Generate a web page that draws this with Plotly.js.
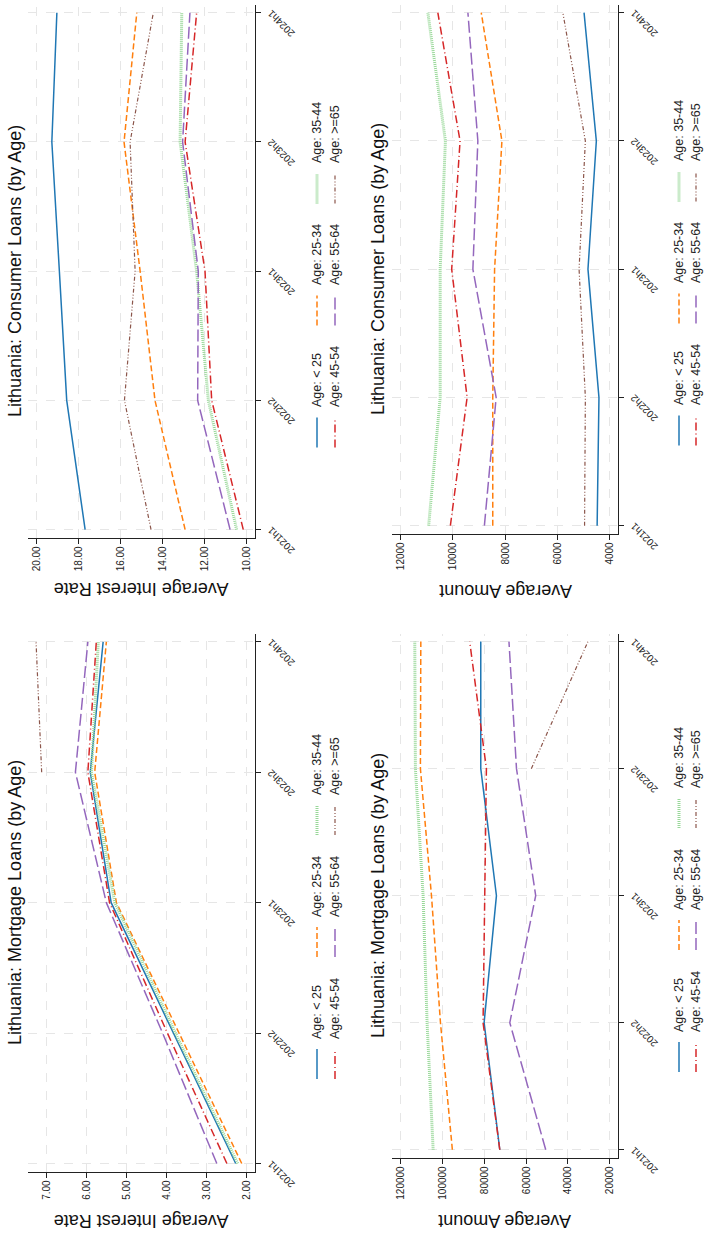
<!DOCTYPE html>
<html>
<head>
<meta charset="utf-8">
<script src="https://cdn.plot.ly/plotly-3.0.1.min.js"></script>
<style>
html,body{margin:0;padding:0;background:#fff;width:706px;height:1235px;overflow:hidden;}
#wrap{position:absolute;left:0;top:0;width:1235px;height:706px;transform-origin:0 0;transform:translate(0px,1235px) rotate(-90deg);}
</style>
</head>
<body>
<div id="wrap"></div>
<script>
// ---------------- DATA ----------------
const periods = ["2021h1", "2022h2", "2023h1", "2023h2", "2024h1"];
const ageGroups = ["Age: < 25", "Age: 25-34", "Age: 35-44", "Age: 45-54", "Age: 55-64", "Age: >=65"];

// Mortgage loans: average interest rate
const mortRateLt25  = [2.28, 3.83, 5.38, 5.90, 5.58];
const mortRate25_34 = [2.13, 3.70, 5.25, 5.79, 5.50];
const mortRate35_44 = [2.23, 3.78, 5.29, 5.87, 5.70];
const mortRate45_54 = [2.50, 3.98, 5.42, 5.96, 5.75];
const mortRate55_64 = [2.75, 4.10, 5.50, 6.27, 5.96];
const mortRate65p   = [null, null, null, 7.11, 7.25];

// Mortgage loans: average amount
const mortAmtLt25  = [72600, 80100, 74200, 81700, 81700];
const mortAmt25_34 = [95300, 101000, 105300, 110600, 110400];
const mortAmt35_44 = [104500, 107400, 109300, 113000, 113300];
const mortAmt45_54 = [72600, 80600, 79800, 79000, 87000];
const mortAmt55_64 = [50600, 67800, 55400, 64600, 68200];
const mortAmt65p   = [null, null, null, 57500, 30400];

// Consumer loans: average interest rate
const consRateLt25  = [17.69, 18.57, 18.92, 19.28, 19.04];
const consRate25_34 = [12.91, 14.35, 15.06, 15.83, 15.22];
const consRate35_44 = [10.45, 11.80, 12.36, 13.15, 13.07];
const consRate45_54 = [10.13, 11.64, 11.96, 12.91, 12.36];
const consRate55_64 = [10.76, 12.31, 12.28, 13.03, 12.68];
const consRate65p   = [14.54, 15.81, 15.30, 15.54, 14.43];

// Consumer loans: average amount
const consAmtLt25  = [4480, 4410, 4830, 4510, 4980];
const consAmt25_34 = [8470, 8470, 8400, 8120, 8910];
const consAmt35_44 = [10920, 10480, 10480, 10280, 10950];
const consAmt45_54 = [10090, 9450, 10040, 9720, 10570];
const consAmt55_64 = [8790, 8340, 9230, 9040, 9420];
const consAmt65p   = [4960, 4930, 5170, 4930, 5790];

const rateTicksMort = [2, 3, 4, 5, 6, 7];
const amtTicksMort  = [20000, 40000, 60000, 80000, 100000, 120000];
const rateTicksCons = [10, 12, 14, 16, 18, 20];
const amtTicksCons  = [4000, 6000, 8000, 10000, 12000];

// ---------------- STYLE ----------------
const W = 1235, H = 706;
const FONT = "Liberation Sans, Arial, Helvetica, sans-serif";
const lineStyles = [
  {color: "#1f77b4", width: 1.5, dash: "solid"},
  {color: "#ff7f0e", width: 1.5, dash: "6px,3px"},
  {color: "#98d898", width: 3, dash: "1px,1px"},
  {color: "#d62728", width: 1.5, dash: "8px,3px,1px,3px"},
  {color: "#9467bd", width: 1.5, dash: "12px,4px"},
  {color: "#8c564b", width: 1.2, dash: "4px,2px,1px,2px,1px,2px"}
];

const panels = [
  {series: [mortRateLt25, mortRate25_34, mortRate35_44, mortRate45_54, mortRate55_64, mortRate65p],
   title: "Lithuania: Mortgage Loans (by Age)", ytitle: "Average Interest Rate",
   ticks: rateTicksMort, fmt: ".2f", range: [1.8, 7.45],
   px: [63, 601], py: [28, 255], titleY: 15, ytitleX: 14, legY: [317, 335]},
  {series: [mortAmtLt25, mortAmt25_34, mortAmt35_44, mortAmt45_54, mortAmt55_64, mortAmt65p],
   title: "Lithuania: Mortgage Loans (by Age)", ytitle: "Average Amount",
   ticks: amtTicksMort, fmt: "d", range: [16000, 124200],
   px: [77, 601], py: [392, 618], titleY: 378, ytitleX: 14, legY: [679, 696]},
  {series: [consRateLt25, consRate25_34, consRate35_44, consRate45_54, consRate55_64, consRate65p],
   title: "Lithuania: Consumer Loans (by Age)", ytitle: "Average Interest Rate",
   ticks: rateTicksCons, fmt: ".2f", range: [9.57, 20.42],
   px: [697, 1230], py: [28, 255], titleY: 15, ytitleX: 646, legY: [317, 335]},
  {series: [consAmtLt25, consAmt25_34, consAmt35_44, consAmt45_54, consAmt55_64, consAmt65p],
   title: "Lithuania: Consumer Loans (by Age)", ytitle: "Average Amount",
   ticks: amtTicksCons, fmt: "d", range: [3682, 12322],
   px: [701, 1230], py: [392, 618], titleY: 378, ytitleX: 644, legY: [679, 696]}
];

const traces = [];
const layout = {
  width: W, height: H,
  margin: {l: 0, r: 0, t: 0, b: 0},
  paper_bgcolor: "#fff", plot_bgcolor: "#fff",
  font: {family: FONT, color: "#222"},
  showlegend: false,
  annotations: [], shapes: []
};

const px2x = X => X / W;
const px2y = Y => 1 - Y / H;

panels.forEach((p, i) => {
  const n = i === 0 ? "" : String(i + 1);
  const xa = "x" + n, ya = "y" + n;
  p.series.forEach((vals, k) => {
    traces.push({
      type: "scatter", mode: "lines", x: periods, y: vals, name: ageGroups[k],
      xaxis: xa, yaxis: ya, connectgaps: false,
      line: lineStyles[k], hoverinfo: "skip"
    });
  });
  layout["xaxis" + n] = {
    domain: [px2x(p.px[0]), px2x(p.px[1])], anchor: ya,
    type: "category", range: [-0.065, 4.06],
    tickangle: -45, tickfont: {size: 10, family: FONT, color: "#222"},
    ticks: "outside", ticklen: 5, tickwidth: 1, tickcolor: "#222",
    showline: true, linecolor: "#222", linewidth: 1.3,
    showgrid: true, gridcolor: "#e6e6e6", griddash: "dash", gridwidth: 1,
    zeroline: false, fixedrange: true
  };
  layout["yaxis" + n] = {
    domain: [px2y(p.py[1]), px2y(p.py[0])], anchor: xa,
    range: p.range, tickmode: "array", tickvals: p.ticks, tickformat: p.fmt,
    tickfont: {size: 10, family: FONT, color: "#222"},
    ticks: "outside", ticklen: 5, tickwidth: 1, tickcolor: "#222",
    showline: true, linecolor: "#222", linewidth: 1.3,
    showgrid: true, gridcolor: "#e6e6e6", griddash: "dash", gridwidth: 1,
    zeroline: false, fixedrange: true
  };
  const cx = (p.px[0] + p.px[1]) / 2;
  layout.annotations.push({
    text: p.title, xref: "paper", yref: "paper", x: px2x(cx), y: px2y(p.titleY),
    xanchor: "center", yanchor: "middle", showarrow: false,
    font: {size: 18, family: FONT, color: "#111"}
  });
  layout.annotations.push({
    text: p.ytitle, xref: "paper", yref: "paper",
    x: px2x(p.ytitleX), y: px2y((p.py[0] + p.py[1]) / 2),
    xanchor: "center", yanchor: "middle", textangle: -90, showarrow: false,
    font: {size: 18, family: FONT, color: "#111"}
  });
  // manual legend: 2 rows x 3 columns
  const colStarts = [cx - 176, cx - 54, cx + 68];
  ageGroups.forEach((g, k) => {
    const row = Math.floor(k / 3), col = k % 3;
    const X0 = colStarts[col], Y = p.legY[row];
    layout.shapes.push({
      type: "line", xref: "paper", yref: "paper",
      x0: px2x(X0), x1: px2x(X0 + 30), y0: px2y(Y), y1: px2y(Y),
      line: lineStyles[k]
    });
    layout.annotations.push({
      text: g, xref: "paper", yref: "paper", x: px2x(X0 + 38), y: px2y(Y),
      xanchor: "left", yanchor: "middle", showarrow: false,
      font: {size: 12.5, family: FONT, color: "#222"}
    });
  });
});

Plotly.newPlot("wrap", traces, layout, {displayModeBar: false, staticPlot: true});
</script>
</body>
</html>
